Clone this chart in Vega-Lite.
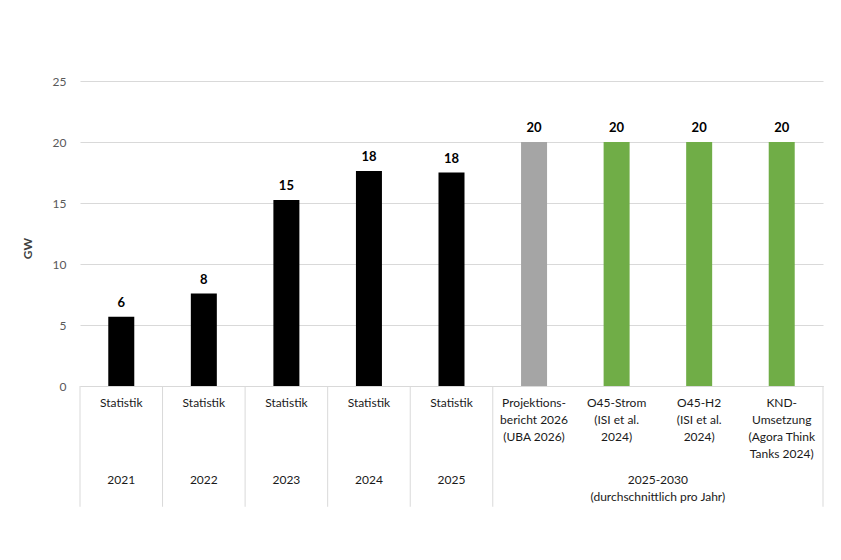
{
  "$schema": "https://vega.github.io/schema/vega-lite/v6.json",
  "width": 743,
  "height": 305,
  "autosize": {"type": "none"},
  "padding": {"left": 80, "top": 81, "right": 18, "bottom": 174},
  "background": "white",
  "config": {"font": "Lato", "view": {"stroke": null}},
  "data": {
    "values": [
      {"kategorie": "2021", "name": "Statistik", "typ": "Statistik", "wert": 5.67, "label": "6", "gruppe": "2021"},
      {"kategorie": "2022", "name": "Statistik", "typ": "Statistik", "wert": 7.58, "label": "8", "gruppe": "2022"},
      {"kategorie": "2023", "name": "Statistik", "typ": "Statistik", "wert": 15.25, "label": "15", "gruppe": "2023"},
      {"kategorie": "2024", "name": "Statistik", "typ": "Statistik", "wert": 17.62, "label": "18", "gruppe": "2024"},
      {"kategorie": "2025", "name": "Statistik", "typ": "Statistik", "wert": 17.5, "label": "18", "gruppe": "2025"},
      {"kategorie": "UBA", "name": "Projektions-|bericht 2026|(UBA 2026)", "typ": "Projektion", "wert": 20, "label": "20", "gruppe": "2025-2030|(durchschnittlich pro Jahr)"},
      {"kategorie": "O45-Strom", "name": "O45-Strom|(ISI et al.|2024)", "typ": "Szenario", "wert": 20, "label": "20", "gruppe": "2025-2030|(durchschnittlich pro Jahr)"},
      {"kategorie": "O45-H2", "name": "O45-H2|(ISI et al.|2024)", "typ": "Szenario", "wert": 20, "label": "20", "gruppe": "2025-2030|(durchschnittlich pro Jahr)"},
      {"kategorie": "KND", "name": "KND-|Umsetzung|(Agora Think|Tanks 2024)", "typ": "Szenario", "wert": 20, "label": "20", "gruppe": "2025-2030|(durchschnittlich pro Jahr)"}
    ]
  },
  "encoding": {
    "x": {
      "field": "kategorie",
      "type": "nominal",
      "sort": null,
      "title": null,
      "scale": {"paddingInner": 0, "paddingOuter": 0},
      "axis": {
        "labels": false,
        "ticks": false,
        "domainColor": "#d9d9d9",
        "grid": false
      }
    }
  },
  "layer": [
    {
      "mark": {"type": "bar", "width": 26},
      "encoding": {
        "y": {
          "field": "wert",
          "type": "quantitative",
          "scale": {"domain": [0, 25], "nice": false},
          "axis": {
            "values": [0, 5, 10, 15, 20, 25],
            "title": "GW",
            "titleFontSize": 12,
            "titleFontWeight": "bold",
            "titleColor": "#404040",
            "titleX": -53,
            "titleY": 167,
            "titleAlign": "center",
            "titleBaseline": "middle",
            "titleAngle": -90,
            "labelFontSize": 12,
            "labelColor": "#595959",
            "labelPadding": 14,
            "domain": false,
            "ticks": false,
            "gridColor": "#d9d9d9"
          }
        },
        "color": {
          "field": "typ",
          "type": "nominal",
          "scale": {"domain": ["Statistik", "Projektion", "Szenario"], "range": ["#000000", "#a5a5a5", "#70ad47"]},
          "legend": null
        }
      }
    },
    {
      "mark": {"type": "text", "baseline": "bottom", "dy": -7, "fontWeight": "bold", "fontSize": 13, "color": "#000000"},
      "encoding": {
        "y": {"field": "wert", "type": "quantitative"},
        "text": {"field": "label"}
      }
    },
    {
      "transform": [{"filter": "datum.typ != 'Szenario'"}],
      "mark": {"type": "rule", "color": "#d9d9d9", "strokeWidth": 1},
      "encoding": {
        "x": {"field": "kategorie", "type": "nominal", "sort": null, "bandPosition": 0},
        "y": {"datum": 0},
        "y2": {"datum": -9.9}
      }
    },
    {
      "transform": [{"filter": "datum.kategorie == 'KND'"}],
      "mark": {"type": "rule", "color": "#d9d9d9", "strokeWidth": 1},
      "encoding": {
        "x": {"field": "kategorie", "type": "nominal", "sort": null, "bandPosition": 1},
        "y": {"datum": 0},
        "y2": {"datum": -9.9}
      }
    },
    {
      "mark": {"type": "text", "baseline": "top", "fontSize": 12, "color": "#1a1a1a", "lineBreak": "|", "lineHeight": 17},
      "encoding": {
        "y": {"datum": -1.0},
        "text": {"field": "name"}
      }
    },
    {
      "transform": [{"filter": "datum.typ == 'Statistik'"}],
      "mark": {"type": "text", "baseline": "top", "fontSize": 12, "color": "#1a1a1a"},
      "encoding": {
        "y": {"datum": -7.3},
        "text": {"field": "gruppe"}
      }
    },
    {
      "transform": [{"filter": "datum.kategorie == 'O45-H2'"}],
      "mark": {"type": "text", "baseline": "top", "fontSize": 12, "color": "#1a1a1a", "lineBreak": "|", "lineHeight": 17},
      "encoding": {
        "x": {"field": "kategorie", "type": "nominal", "sort": null, "bandPosition": 0},
        "y": {"datum": -7.3},
        "text": {"field": "gruppe"}
      }
    }
  ]
}
